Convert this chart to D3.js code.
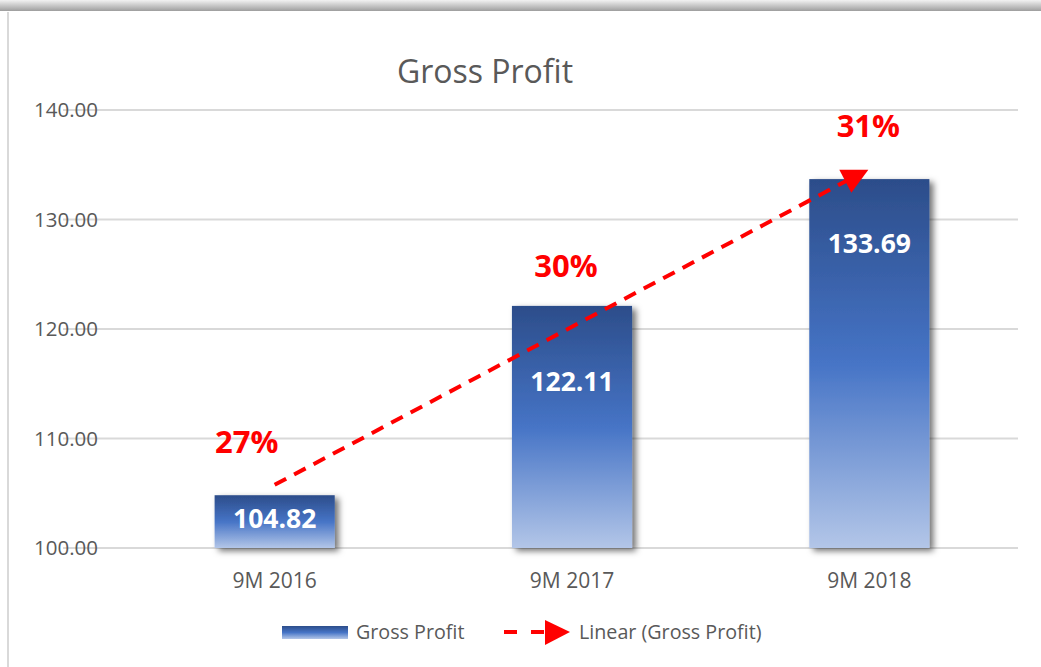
<!DOCTYPE html>
<html>
<head>
<meta charset="utf-8">
<script src="https://cdn.jsdelivr.net/npm/d3@7/dist/d3.min.js"></script>
<style>
  body { margin: 0; background: #fff; }
  text { font-family: "Open Sans", sans-serif; }
</style>
</head>
<body>
<div id="chart"></div>
<script>
var categories = ["9M 2016", "9M 2017", "9M 2018"];
var grossProfit = [104.82, 122.11, 133.69];
var margins = ["27%", "30%", "31%"];
var yTicks = [100, 110, 120, 130, 140];

var width = 1041;
var height = 667;

var svg = d3.select("#chart")
    .append("svg")
    .attr("width", width)
    .attr("height", height);

var defs = svg.append("defs");

// bar fill, dark on top to pale at the bottom
var grad = defs.append("linearGradient")
    .attr("id", "barGrad")
    .attr("x1", 0).attr("y1", 0)
    .attr("x2", 0).attr("y2", 1);
grad.append("stop").attr("offset", "0%").attr("stop-color", "#2c4d8a");
grad.append("stop").attr("offset", "50%").attr("stop-color", "#4674c6");
grad.append("stop").attr("offset", "100%").attr("stop-color", "#b3c6e8");

var topGrad = defs.append("linearGradient")
    .attr("id", "topGrad")
    .attr("x1", 0).attr("y1", 0)
    .attr("x2", 0).attr("y2", 1);
topGrad.append("stop").attr("offset", "0%").attr("stop-color", "#f2f2f2");
topGrad.append("stop").attr("offset", "100%").attr("stop-color", "#9e9e9e");

var shadow = defs.append("filter")
    .attr("id", "shadow")
    .attr("x", "-20%").attr("y", "-20%")
    .attr("width", "150%").attr("height", "150%");
shadow.append("feDropShadow")
    .attr("dx", 4)
    .attr("dy", 3)
    .attr("stdDeviation", 3)
    .attr("flood-color", "#000")
    .attr("flood-opacity", 0.55);

// frame
svg.append("rect")
    .attr("x", 0).attr("y", 0)
    .attr("width", width).attr("height", 11)
    .attr("fill", "url(#topGrad)");
svg.append("line")
    .attr("x1", 8).attr("y1", 12)
    .attr("x2", 8).attr("y2", height)
    .attr("stroke", "#d9d9d9")
    .attr("stroke-width", 2);

var x = d3.scaleBand()
    .domain(categories)
    .range([126, 1018])
    .paddingInner(0.596)
    .paddingOuter(0.298);

var y = d3.scaleLinear()
    .domain([100, 140])
    .range([548, 110]);

// title
svg.append("text")
    .attr("x", 485)
    .attr("y", 83)
    .attr("text-anchor", "middle")
    .attr("fill", "#595959")
    .style("font-size", "32px")
    .text("Gross Profit");

// grid
svg.append("g")
    .selectAll("line")
    .data(yTicks)
    .enter()
    .append("line")
    .attr("x1", 63)
    .attr("x2", 1018)
    .attr("y1", function(d) { return y(d); })
    .attr("y2", function(d) { return y(d); })
    .attr("stroke", "#d9d9d9")
    .attr("stroke-width", 2);

// y labels
svg.append("g")
    .selectAll("text")
    .data(yTicks)
    .enter()
    .append("text")
    .attr("x", 98)
    .attr("y", function(d) { return y(d); })
    .attr("dy", "0.36em")
    .attr("text-anchor", "end")
    .attr("fill", "#595959")
    .style("font-size", "20.5px")
    .text(function(d) { return d3.format(".2f")(d); });

// x labels
svg.append("g")
    .selectAll("text")
    .data(categories)
    .enter()
    .append("text")
    .attr("x", function(d) { return x(d) + x.bandwidth() / 2; })
    .attr("y", 580)
    .attr("dy", "0.36em")
    .attr("text-anchor", "middle")
    .attr("fill", "#595959")
    .style("font-size", "21px")
    .text(function(d) { return d; });

// bars
svg.append("g")
    .selectAll("rect")
    .data(grossProfit)
    .enter()
    .append("rect")
    .attr("x", function(d, i) { return x(categories[i]); })
    .attr("y", function(d) { return y(d); })
    .attr("width", x.bandwidth())
    .attr("height", function(d) { return y(100) - y(d); })
    .attr("fill", "url(#barGrad)")
    .attr("filter", "url(#shadow)");

// value labels (placed by hand in the original)
var labelDrop = [23, 76, 64];
svg.append("g")
    .selectAll("text")
    .data(grossProfit)
    .enter()
    .append("text")
    .attr("x", function(d, i) { return x(categories[i]) + x.bandwidth() / 2; })
    .attr("y", function(d, i) { return y(d) + labelDrop[i]; })
    .attr("dy", "0.36em")
    .attr("text-anchor", "middle")
    .attr("fill", "#fff")
    .style("font-size", "26.5px")
    .style("font-weight", "bold")
    .text(function(d) { return d3.format(".2f")(d); });

// linear trend
var n = grossProfit.length;
var meanX = (n - 1) / 2;
var meanY = d3.mean(grossProfit);
var sxy = 0, sxx = 0;
grossProfit.forEach(function(v, i) {
    sxy += (i - meanX) * (v - meanY);
    sxx += (i - meanX) * (i - meanX);
});
var slope = sxy / sxx;
var icpt = meanY - slope * meanX;

var cx = function(i) { return x(categories[i]) + x.bandwidth() / 2; };
var x0 = cx(0), y0 = y(icpt);
var x1 = cx(n - 1), y1 = y(icpt + slope * (n - 1));
var t = 0.975;

svg.append("line")
    .attr("x1", x0)
    .attr("y1", y0)
    .attr("x2", x0 + (x1 - x0) * t)
    .attr("y2", y0 + (y1 - y0) * t)
    .attr("stroke", "#ff0000")
    .attr("stroke-width", 4)
    .attr("stroke-dasharray", "13,9");

svg.append("path")
    .attr("d", "M" + (x1 - 30) + "," + (y1 + 1) +
               "L" + (x1 - 1) + "," + (y1 + 1) +
               "L" + (x1 - 18) + "," + (y1 + 24) + "Z")
    .attr("fill", "#ff0000");

// margin labels (placed by hand in the original)
var marginDx = [-28, -6, -1];
var marginDy = [-53, -40, -53];
svg.append("g")
    .selectAll("text")
    .data(margins)
    .enter()
    .append("text")
    .attr("x", function(d, i) { return cx(i) + marginDx[i]; })
    .attr("y", function(d, i) { return y(grossProfit[i]) + marginDy[i]; })
    .attr("dy", "0.36em")
    .attr("text-anchor", "middle")
    .attr("fill", "#ff0000")
    .style("font-size", "31px")
    .style("font-weight", "bold")
    .text(function(d) { return d; });

// legend
var legend = svg.append("g");
legend.append("rect")
    .attr("x", 282).attr("y", 626)
    .attr("width", 66).attr("height", 13)
    .attr("fill", "url(#barGrad)");
legend.append("text")
    .attr("x", 356).attr("y", 632)
    .attr("dy", "0.36em")
    .attr("fill", "#595959")
    .style("font-size", "19.7px")
    .text("Gross Profit");
legend.append("line")
    .attr("x1", 504).attr("y1", 632)
    .attr("x2", 548).attr("y2", 632)
    .attr("stroke", "#ff0000")
    .attr("stroke-width", 4)
    .attr("stroke-dasharray", "13,14");
legend.append("path")
    .attr("d", "M545,620L570,632L545,645Z")
    .attr("fill", "#ff0000");
legend.append("text")
    .attr("x", 579).attr("y", 632)
    .attr("dy", "0.36em")
    .attr("fill", "#595959")
    .style("font-size", "19.7px")
    .text("Linear (Gross Profit)");
</script>
</body>
</html>
